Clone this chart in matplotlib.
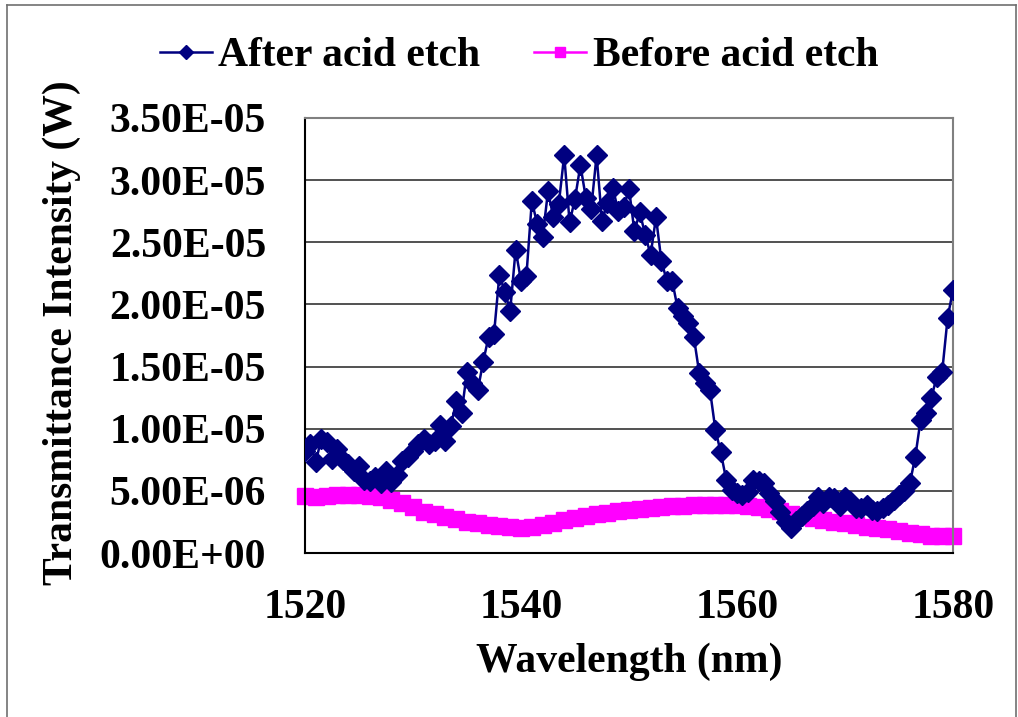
import numpy as np
import matplotlib
matplotlib.use("Agg")
import matplotlib.pyplot as plt
from matplotlib.ticker import FuncFormatter, MultipleLocator
from matplotlib.lines import Line2D

# ---- data (values in units of 1e-6 W) ----
wl_after = np.arange(1520, 1580.01, 0.5)
after_uW = [
    8.2, 8.8, 7.3, 9.2, 8.9, 7.6, 8.4, 7.5, 7.2, 6.6,
    7.0, 5.9, 5.8, 6.1, 5.6, 6.6, 5.7, 6.3, 7.4, 7.7,
    8.2, 8.8, 9.2, 8.8, 9.0, 10.3, 9.0, 10.2, 12.2, 11.3,
    14.6, 13.7, 13.1, 15.4, 17.4, 17.6, 22.4, 21.0, 19.5, 24.4,
    21.9, 22.3, 28.3, 26.5, 25.4, 29.1, 27.0, 28.1, 32.0, 26.6,
    28.5, 31.2, 28.6, 27.7, 32.0, 26.7, 28.2, 29.4, 27.5, 27.8,
    29.3, 25.9, 27.4, 25.6, 24.0, 27.0, 23.5, 21.9, 21.9, 19.7,
    19.1, 18.5, 17.4, 14.5, 13.7, 13.1, 9.9, 8.1, 5.9, 5.1,
    4.8, 4.7, 4.9, 5.9, 5.8, 5.6, 4.8, 4.2, 3.3, 2.5,
    2.0, 2.6, 3.0, 3.4, 3.8, 4.5, 4.0, 4.5, 4.4, 3.8,
    4.5, 4.2, 3.6, 3.6, 3.9, 3.5, 3.4, 3.6, 3.9, 4.3,
    4.7, 5.0, 5.6, 7.7, 10.7, 11.3, 12.5, 14.2, 14.6, 18.9,
    21.2,
]
wl_before = np.arange(1520, 1580.01, 1.0)
before_uW = [
    4.55, 4.5, 4.6, 4.65, 4.7, 4.7, 4.6, 4.5, 4.3, 4.0,
    3.7, 3.3, 3.1, 2.9, 2.7, 2.5, 2.4, 2.25, 2.15, 2.1,
    2.05, 2.1, 2.25, 2.45, 2.65, 2.85, 3.0, 3.15, 3.25, 3.35,
    3.45, 3.55, 3.6, 3.7, 3.75, 3.8, 3.85, 3.85, 3.85, 3.85,
    3.85, 3.8, 3.7, 3.55, 3.35, 3.15, 2.95, 2.8, 2.65, 2.5,
    2.4, 2.25, 2.1, 2.0, 1.9, 1.75, 1.6, 1.5, 1.4, 1.35,
    1.35,
]
after = np.array(after_uW) * 1e-6
before = np.array(before_uW) * 1e-6

xticks = [1520, 1540, 1560, 1580]

FONT = "Liberation Serif"
plt.rcParams["font.family"] = FONT
plt.rcParams["font.weight"] = "bold"

W, H = 1018, 717
fig = plt.figure(figsize=(W / 100, H / 100), dpi=100)
ax = fig.add_axes([305 / W, 1 - 553 / H, (953 - 305) / W, (553 - 118) / H])

ax.plot(wl_after, after, color="#000080", lw=1.8, marker="D", ms=10,
        markeredgecolor="#000080", markerfacecolor="#000080",
        label="After acid etch", zorder=3)
ax.plot(wl_before, before, color="#FF00FF", lw=1.8, marker="s", ms=11,
        markeredgecolor="#FF00FF", markerfacecolor="#FF00FF",
        label="Before acid etch", zorder=2, clip_on=False)

ax.set_xlim(1520, 1580)
ax.set_ylim(0, 3.5e-5)
ax.set_xticks(xticks)
ax.yaxis.set_major_locator(MultipleLocator(5e-6))
ax.yaxis.set_major_formatter(FuncFormatter(lambda v, p: f"{v:.2E}"))
ax.grid(axis="y", color="#222222", lw=1.1)
ax.set_axisbelow(True)
ax.tick_params(axis="both", length=0)
ax.tick_params(axis="y", labelsize=30, pad=28)
ax.tick_params(axis="x", labelsize=30, pad=26)
for lab in ax.get_xticklabels() + ax.get_yticklabels():
    lab.set_fontweight("bold")

for s in ["left", "bottom"]:
    ax.spines[s].set_color("#000000")
    ax.spines[s].set_linewidth(1.5)
for s in ["top", "right"]:
    ax.spines[s].set_color("#808080")
    ax.spines[s].set_linewidth(1.5)

fig.text(629 / W, 1 - 662 / H, "Wavelength (nm)", fontsize=30, fontweight="bold",
         ha="center", va="center")
fig.text(62 / W, 1 - 333 / H, "Transmittance Intensity (W)", fontsize=30,
         fontweight="bold", ha="center", va="center", rotation=90)

leg = fig.legend(loc="center", bbox_to_anchor=(519 / W, 1 - 56 / H), ncol=2,
                 frameon=False, fontsize=30, handlelength=1.25,
                 handletextpad=0.15, columnspacing=1.3, markerscale=0.7)
for t in leg.get_texts():
    t.set_fontweight("bold")

# outer chart border
bc = "#707070"
fig.add_artist(Line2D([6.5 / W, 6.5 / W], [0, 1 - 5 / H], transform=fig.transFigure, color=bc, lw=1.2))
fig.add_artist(Line2D([6.5 / W, 1016 / W], [1 - 5 / H, 1 - 5 / H], transform=fig.transFigure, color=bc, lw=1.2))
fig.add_artist(Line2D([1016 / W, 1016 / W], [0, 1 - 5 / H], transform=fig.transFigure, color=bc, lw=1.2))

fig.savefig("out.png", dpi=100)
